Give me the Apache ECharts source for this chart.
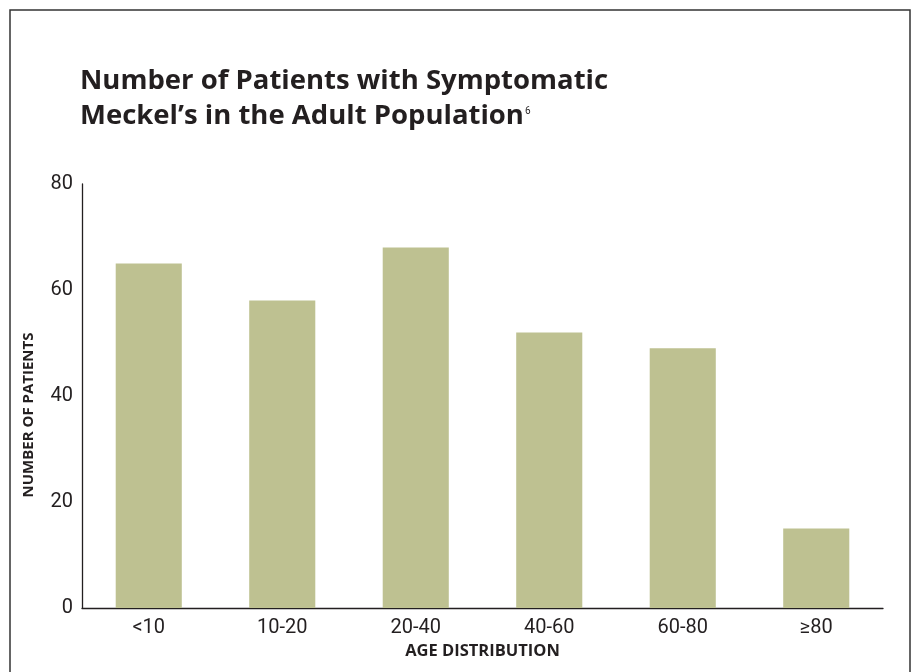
<!DOCTYPE html>
<html>
<head>
<meta charset="utf-8">
<script src="https://cdn.jsdelivr.net/npm/echarts@6/dist/echarts.min.js"></script>
<style>
  html, body { margin: 0; padding: 0; background: #fff; }
  #chart { width: 915px; height: 672px; }
</style>
</head>
<body>
<div id="chart"></div>
<script>
// Age bands and patient counts
const ageBands = ['<10', '10-20', '20-40', '40-60', '60-80', '≥80'];
const patientCounts = [65, 58, 68, 52, 49, 15];
const yTicks = { min: 0, max: 80, interval: 20 };

const ink = '#231f20';
const barColor = '#bec191';
const labelFont = 'Roboto, "Liberation Sans Narrow", sans-serif';
const boldFont = '"Open Sans", "Noto Sans", sans-serif';

const chart = echarts.init(document.getElementById('chart'), null, { renderer: 'canvas' });

chart.setOption({
  backgroundColor: '#fff',
  animation: false,
  title: {
    text: 'Number of Patients with Symptomatic\nMeckel\u2019s in the Adult Population{sup|6}',
    left: 75,
    top: 59,
    textStyle: {
      fontFamily: boldFont,
      fontWeight: 700,
      fontSize: 27.5,
      lineHeight: 35,
      color: ink,
      rich: {
        sup: { fontSize: 10, fontFamily: labelFont, fontWeight: 'normal', color: ink, verticalAlign: 'top', lineHeight: 12, padding: [7, 0, 0, 1] }
      }
    }
  },
  graphic: [
    {
      type: 'rect',
      silent: true,
      shape: { x: 10, y: 10, width: 900, height: 700 },
      style: { fill: 'none', stroke: '#333', lineWidth: 1.5 }
    },
    {
      type: 'text',
      silent: true,
      x: 29,
      y: 415,
      rotation: Math.PI / 2,
      style: {
        text: 'NUMBER OF PATIENTS',
        fontFamily: boldFont,
        fontWeight: 700,
        fontSize: 15,
        fill: ink,
        align: 'center',
        verticalAlign: 'middle'
      }
    }
  ],
  grid: { left: 82, right: 32, top: 184, bottom: 64, containLabel: false },
  xAxis: {
    type: 'category',
    data: ageBands,
    axisLine: { show: true, lineStyle: { color: ink, width: 1.3 } },
    axisTick: { show: false },
    axisLabel: { color: ink, fontFamily: labelFont, fontSize: 20, margin: 10 },
    name: 'AGE DISTRIBUTION',
    nameLocation: 'middle',
    nameGap: 35,
    nameTextStyle: { color: ink, fontFamily: boldFont, fontWeight: 700, fontSize: 16.5 }
  },
  yAxis: {
    type: 'value',
    min: yTicks.min,
    max: yTicks.max,
    interval: yTicks.interval,
    axisLine: { show: true, lineStyle: { color: ink, width: 1.3 } },
    axisTick: { show: false },
    splitLine: { show: false },
    axisLabel: { color: ink, fontFamily: labelFont, fontSize: 20, margin: 9 }
  },
  series: [{
    type: 'bar',
    data: patientCounts,
    barWidth: '49.5%',
    itemStyle: { color: barColor },
    silent: true
  }]
});
</script>
</body>
</html>
